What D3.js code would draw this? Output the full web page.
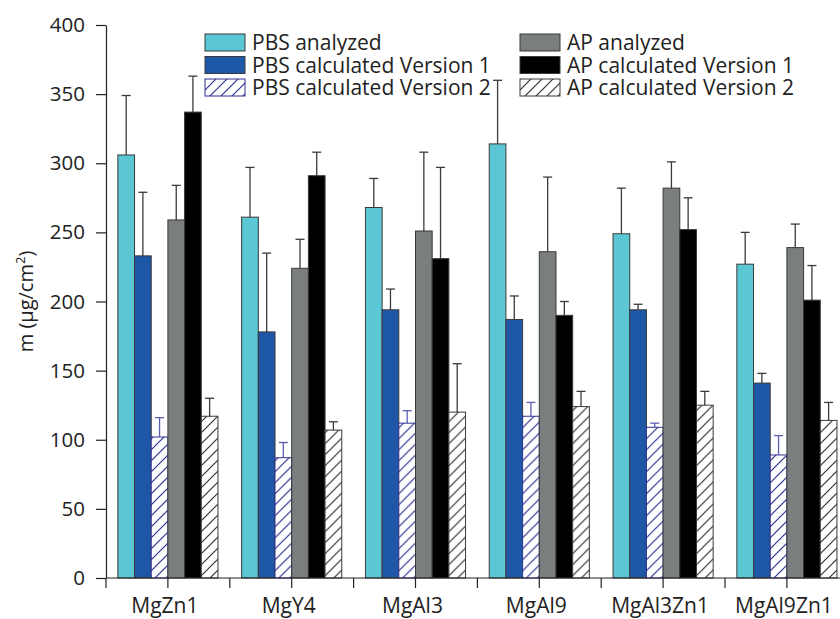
<!DOCTYPE html>
<html>
<head>
<meta charset="utf-8">
<script src="https://cdn.jsdelivr.net/npm/d3@7"></script>
<style>
  body { margin: 0; background: #fff; }
  svg { display: block; font-family: "Open Sans", sans-serif; }
</style>
</head>
<body>
<script>
// chart values
const categories = ["MgZn1", "MgY4", "MgAl3", "MgAl9", "MgAl3Zn1", "MgAl9Zn1"];
const seriesNames = [
    "PBS analyzed", "PBS calculated Version 1", "PBS calculated Version 2",
    "AP analyzed", "AP calculated Version 1", "AP calculated Version 2"
];
const pbsAnalyzed    = [306, 261, 268, 314, 249, 227];
const pbsAnalyzedErr = [43, 36, 21, 46, 33, 23];
const pbsV1          = [233, 178, 194, 187, 194, 141];
const pbsV1Err       = [46, 57, 15, 17, 4, 7];
const pbsV2          = [102, 87, 112, 117, 109, 89];
const pbsV2Err       = [14, 11, 9, 10, 3, 14];
const apAnalyzed     = [259, 224, 251, 236, 282, 239];
const apAnalyzedErr  = [25, 21, 57, 54, 19, 17];
const apV1           = [337, 291, 231, 190, 252, 201];
const apV1Err        = [26, 17, 66, 10, 23, 25];
const apV2           = [117, 107, 120, 124, 125, 114];
const apV2Err        = [13, 6, 35, 11, 10, 13];
const yTicks = [0, 50, 100, 150, 200, 250, 300, 350, 400];

const values = [pbsAnalyzed, pbsV1, pbsV2, apAnalyzed, apV1, apV2];
const errors = [pbsAnalyzedErr, pbsV1Err, pbsV2Err, apAnalyzedErr, apV1Err, apV2Err];

// looks
const fills = ["#5bc7d5", "#1f57a7", "url(#hatchBlue)", "#7a7e7f", "#000000", "url(#hatchGray)"];
const strokes = ["#3a3a3a", "#3a3a3a", "#2e3192", "#3a3a3a", "#3a3a3a", "#3a3a3a"];
const errColors = ["#3a3a3a", "#3a3a3a", "#5a5db2", "#3a3a3a", "#3a3a3a", "#3a3a3a"];

const width = 840, height = 619;
const plotLeft = 106, plotTop = 25, plotBottom = 578;

const svg = d3.select("body").append("svg")
    .attr("width", width)
    .attr("height", height);

// hatch patterns
const defs = svg.append("defs");
function hatch(id, color) {
    const p = defs.append("pattern")
        .attr("id", id)
        .attr("patternUnits", "userSpaceOnUse")
        .attr("width", 11).attr("height", 11);
    p.append("rect").attr("width", 11).attr("height", 11).attr("fill", "#fff");
    p.append("path")
        .attr("d", "M0,11 L11,0 M-3,3 L3,-3 M8,14 L14,8")
        .attr("stroke", color)
        .attr("stroke-width", 1.2);
}
hatch("hatchBlue", "#2e3192");
hatch("hatchGray", "#333");

const x0 = d3.scaleBand()
    .domain(categories)
    .range([plotLeft, plotLeft + 6 * 123.8]);

const x1 = d3.scaleBand()
    .domain(d3.range(seriesNames.length))
    .range([0, x0.bandwidth()])
    .paddingOuter(0.71);

const y = d3.scaleLinear()
    .domain([0, 400])
    .range([plotBottom, plotTop]);

// bars
const groups = svg.selectAll(".group")
    .data(categories)
    .enter()
    .append("g")
    .attr("class", "group")
    .attr("transform", d => `translate(${x0(d)},0)`);

groups.selectAll("rect")
    .data((d, i) => values.map((s, k) => ({k: k, v: s[i], e: errors[k][i]})))
    .enter()
    .append("rect")
    .attr("x", d => x1(d.k))
    .attr("y", d => y(d.v))
    .attr("width", x1.bandwidth())
    .attr("height", d => y(0) - y(d.v))
    .attr("fill", d => fills[d.k])
    .attr("stroke", d => strokes[d.k])
    .attr("stroke-width", 1);

// error bars (upper only)
const eb = groups.selectAll(".err")
    .data((d, i) => values.map((s, k) => ({k: k, v: s[i], e: errors[k][i]})))
    .enter()
    .append("g")
    .attr("class", "err")
    .attr("stroke", d => errColors[d.k])
    .attr("stroke-width", 1.3);

eb.append("line")
    .attr("x1", d => x1(d.k) + x1.bandwidth() / 2)
    .attr("x2", d => x1(d.k) + x1.bandwidth() / 2)
    .attr("y1", d => y(d.v))
    .attr("y2", d => y(d.v + d.e));

eb.append("line")
    .attr("x1", d => x1(d.k) + x1.bandwidth() / 2 - 4.5)
    .attr("x2", d => x1(d.k) + x1.bandwidth() / 2 + 4.5)
    .attr("y1", d => y(d.v + d.e))
    .attr("y2", d => y(d.v + d.e));

// y axis
const yAxis = svg.append("g")
    .attr("transform", `translate(${plotLeft},0)`)
    .call(d3.axisLeft(y).tickValues(yTicks).tickSize(10).tickSizeOuter(0).tickPadding(11));
yAxis.selectAll("text").attr("font-size", 20.5).attr("fill", "#222").attr("font-family", "Open Sans");
yAxis.selectAll("line, path").attr("stroke", "#222").attr("stroke-width", 1.2);

// x axis: ticks at group centres and group boundaries
const xAxis = svg.append("g");
xAxis.append("line")
    .attr("x1", plotLeft).attr("x2", width)
    .attr("y1", plotBottom).attr("y2", plotBottom)
    .attr("stroke", "#222").attr("stroke-width", 1.2);

const tickPos = [];
categories.forEach(c => {
    tickPos.push(x0(c));
    tickPos.push(x0(c) + x0.bandwidth() / 2);
});
xAxis.selectAll(".xt")
    .data(tickPos)
    .enter()
    .append("line")
    .attr("x1", d => d).attr("x2", d => d)
    .attr("y1", plotBottom).attr("y2", plotBottom + 10)
    .attr("stroke", "#222").attr("stroke-width", 1.2);

xAxis.selectAll(".xl")
    .data(categories)
    .enter()
    .append("text")
    .attr("x", d => x0(d) + x0.bandwidth() / 2 - 3)
    .attr("y", 613)
    .attr("text-anchor", "middle")
    .attr("font-size", 21)
    .attr("fill", "#222")
    .text(d => d);

// y axis title
const yt = svg.append("text")
    .attr("transform", `translate(33,${(plotTop + plotBottom) / 2}) rotate(-90)`)
    .attr("text-anchor", "middle")
    .attr("font-size", 20)
    .attr("fill", "#222");
yt.append("tspan").text("m (μg/cm");
yt.append("tspan").attr("font-size", 13).attr("dy", -8).text("2");
yt.append("tspan").attr("dy", 8).text(")");

// legend
const legendX = [205, 520];
const legend = svg.selectAll(".leg")
    .data(seriesNames)
    .enter()
    .append("g")
    .attr("class", "leg")
    .attr("transform", (d, i) => `translate(${legendX[Math.floor(i / 3)]},${34 + (i % 3) * 22.5})`);

legend.append("rect")
    .attr("width", 40).attr("height", 17)
    .attr("fill", (d, i) => fills[i])
    .attr("stroke", (d, i) => strokes[i])
    .attr("stroke-width", 1);

legend.append("text")
    .attr("x", 47)
    .attr("y", 16)
    .attr("font-size", 21)
    .attr("fill", "#222")
    .text(d => d);
</script>
</body>
</html>
